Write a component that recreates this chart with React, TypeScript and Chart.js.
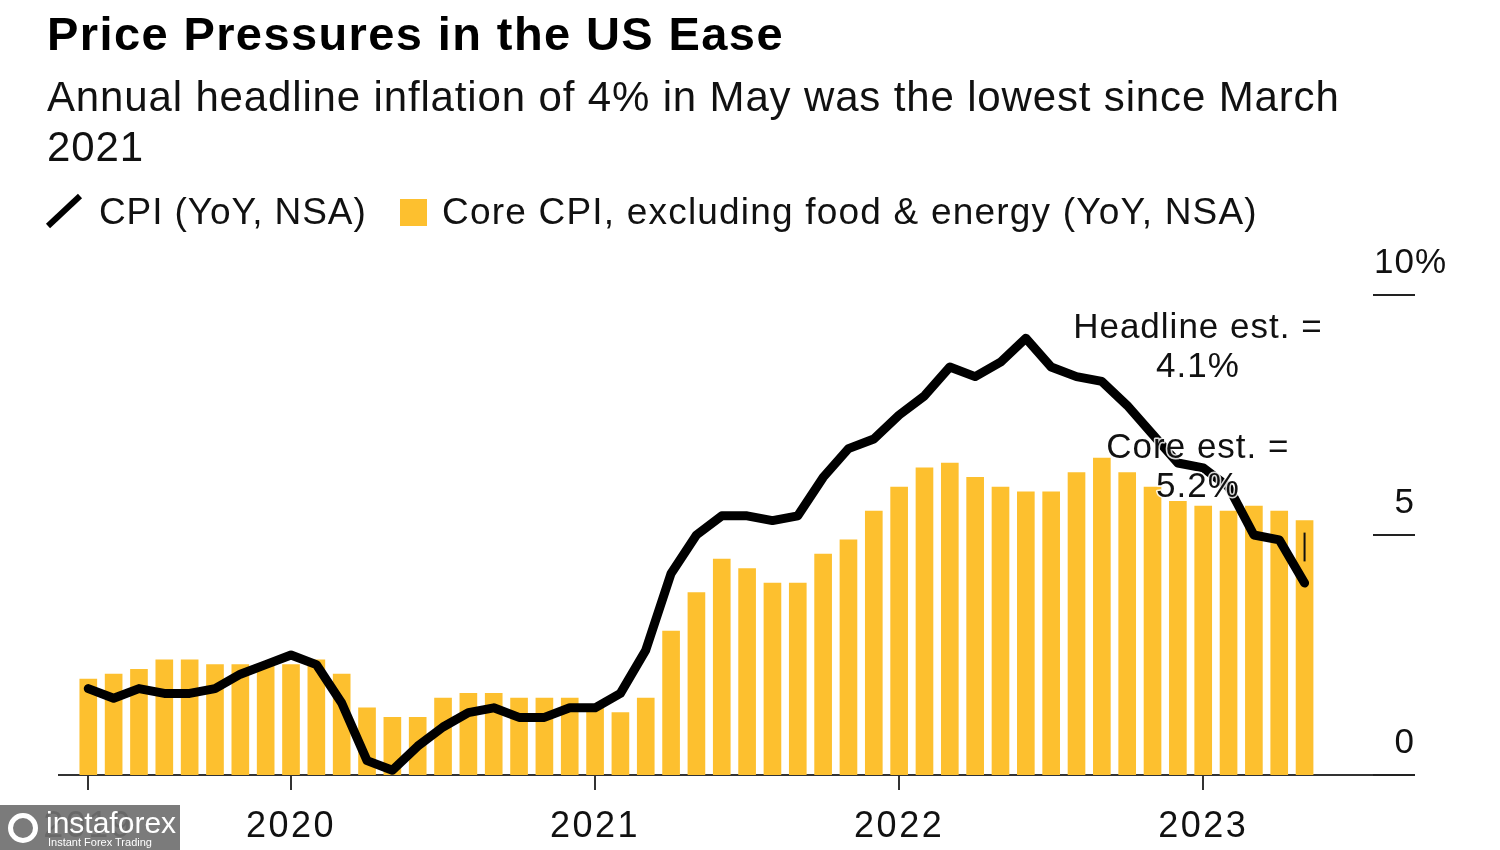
import React, { useEffect, useRef } from 'react';
import { Chart, registerables } from 'chart.js';

Chart.register(...registerables);

const FONT = '"Liberation Sans", Arial, Helvetica, sans-serif';

// Monthly observations, May 2019 - May 2023
const months = [
  '2019-05', '2019-06', '2019-07', '2019-08', '2019-09', '2019-10', '2019-11', '2019-12',
  '2020-01', '2020-02', '2020-03', '2020-04', '2020-05', '2020-06', '2020-07', '2020-08', '2020-09', '2020-10', '2020-11', '2020-12',
  '2021-01', '2021-02', '2021-03', '2021-04', '2021-05', '2021-06', '2021-07', '2021-08', '2021-09', '2021-10', '2021-11', '2021-12',
  '2022-01', '2022-02', '2022-03', '2022-04', '2022-05', '2022-06', '2022-07', '2022-08', '2022-09', '2022-10', '2022-11', '2022-12',
  '2023-01', '2023-02', '2023-03', '2023-04', '2023-05',
];

const cpiYoY = [
  1.8, 1.6, 1.8, 1.7, 1.7, 1.8, 2.1, 2.3,
  2.5, 2.3, 1.5, 0.3, 0.1, 0.6, 1.0, 1.3, 1.4, 1.2, 1.2, 1.4,
  1.4, 1.7, 2.6, 4.2, 5.0, 5.4, 5.4, 5.3, 5.4, 6.2, 6.8, 7.0,
  7.5, 7.9, 8.5, 8.3, 8.6, 9.1, 8.5, 8.3, 8.2, 7.7, 7.1, 6.5,
  6.4, 6.0, 5.0, 4.9, 4.0,
];

const coreCpiYoY = [
  2.0, 2.1, 2.2, 2.4, 2.4, 2.3, 2.3, 2.3,
  2.3, 2.4, 2.1, 1.4, 1.2, 1.2, 1.6, 1.7, 1.7, 1.6, 1.6, 1.6,
  1.4, 1.3, 1.6, 3.0, 3.8, 4.5, 4.3, 4.0, 4.0, 4.6, 4.9, 5.5,
  6.0, 6.4, 6.5, 6.2, 6.0, 5.9, 5.9, 6.3, 6.6, 6.3, 6.0, 5.7,
  5.6, 5.5, 5.6, 5.5, 5.3,
];

// Small estimate marker on the latest month
const estimateMarker = [4.45, 5.05];

// x-axis ticks (month -> year label)
const yearTickMonths = ['2019-05', '2020-01', '2021-01', '2022-01', '2023-01'];
const yearTickLabels = ['2019', '2020', '2021', '2022', '2023'];

// right-hand value axis
const yTickValues = [0, 5, 10];
const yTickLabels = ['0', '5', '10'];
const yTickSuffix = ['', '', '%'];

const annotationTexts = [
  ['Headline est. =', '4.1%'],
  ['Core est. =', '5.2%'],
];
const annotationAnchorX = [43.79, 43.79];
const annotationAnchorY = [9.1, 6.6];

const YELLOW = '#FDC02F';

const spacingPlugin = {
  id: 'spacing',
  beforeDraw(chart: any) {
    try { (chart.ctx as any).letterSpacing = '2.5px'; } catch (e) {}
  },
  afterDraw(chart: any) {
    try { (chart.ctx as any).letterSpacing = '0px'; } catch (e) {}
  },
};

const overlayPlugin = {
  id: 'overlay',
  afterDatasetsDraw(chart: any) {
    const { ctx, scales } = chart;
    const x = scales.x;
    const y = scales.y;
    ctx.save();
    ctx.font = `35px ${FONT}`;
    try { (ctx as any).letterSpacing = '1px'; } catch (e) {}
    ctx.textAlign = 'center';
    ctx.textBaseline = 'alphabetic';
    ctx.lineJoin = 'round';
    annotationTexts.forEach((lines, i) => {
      const px = x.getPixelForValue(annotationAnchorX[i]);
      const py0 = y.getPixelForValue(annotationAnchorY[i]);
      lines.forEach((t, j) => {
        const py = py0 + j * 39;
        ctx.lineWidth = 3;
        ctx.strokeStyle = 'rgba(255,255,255,0.85)';
        ctx.strokeText(t, px, py);
        ctx.fillStyle = '#111';
        ctx.fillText(t, px, py);
      });
    });
    ctx.restore();
  },
  afterDraw(chart: any) {
    const { ctx, scales, chartArea } = chart;
    const y = scales.y;
    const right = chartArea.right + 3;
    ctx.save();
    ctx.font = `35px ${FONT}`;
    try { (ctx as any).letterSpacing = '1px'; } catch (e) {}
    ctx.textBaseline = 'alphabetic';
    ctx.fillStyle = '#111';
    yTickValues.forEach((v, i) => {
      const py = y.getPixelForValue(v);
      ctx.strokeStyle = '#222';
      ctx.lineWidth = 2;
      ctx.beginPath();
      ctx.moveTo(right - 42, py);
      ctx.lineTo(right, py);
      ctx.stroke();
      ctx.textAlign = 'right';
      ctx.fillText(yTickLabels[i], right, py - 22);
      if (yTickSuffix[i]) {
        ctx.textAlign = 'left';
        ctx.fillText(yTickSuffix[i], right, py - 22);
      }
    });
    ctx.restore();
  },
};

export default function App() {
  const canvasRef = useRef<HTMLCanvasElement | null>(null);

  useEffect(() => {
    if (!canvasRef.current) return;
    const idx = months.map((_, i) => i);
    const tickIdx = yearTickMonths.map((m) => months.indexOf(m));
    const last = months.length - 1;
    const chart = new Chart(canvasRef.current, {
      type: 'bar',
      data: {
        datasets: [
          {
            type: 'line',
            label: 'CPI (YoY, NSA)',
            data: idx.map((i) => ({ x: i, y: cpiYoY[i] })),
            borderColor: '#000',
            borderWidth: 9,
            borderJoinStyle: 'round',
            borderCapStyle: 'round',
            pointRadius: 0,
            tension: 0,
            order: 0,
          } as any,
          {
            type: 'line',
            label: 'estimate',
            data: estimateMarker.map((v) => ({ x: last, y: v })),
            borderColor: '#111',
            borderWidth: 2,
            pointRadius: 0,
            order: 1,
          } as any,
          {
            type: 'bar',
            label: 'Core CPI, excluding food & energy (YoY, NSA)',
            data: idx.map((i) => ({ x: i, y: coreCpiYoY[i] })),
            backgroundColor: YELLOW,
            barThickness: 17,
            order: 2,
          } as any,
        ],
      },
      options: {
        responsive: false,
        animation: false,
        layout: { padding: { left: 59, right: 88, top: 271, bottom: -14 } },
        plugins: {
          legend: { display: false },
          tooltip: { enabled: false },
          title: { display: false },
        },
        scales: {
          x: {
            type: 'linear',
            offset: false,
            min: -1.156,
            max: 52.24,
            afterBuildTicks: (axis: any) => {
              axis.ticks = tickIdx.map((v) => ({ value: v }));
            },
            grid: {
              display: true,
              offset: false,
              drawOnChartArea: false,
              drawTicks: true,
              tickLength: 15,
              color: '#333',
              lineWidth: 2,
            },
            border: { display: true, color: '#333', width: 2 },
            ticks: {
              autoSkip: false,
              maxRotation: 0,
              padding: 19,
              color: '#111',
              font: { family: FONT, size: 36, lineHeight: 1 },
              callback: (v: any) => {
                const k = tickIdx.indexOf(Number(v));
                return k >= 0 ? yearTickLabels[k] : '';
              },
            },
          },
          y: {
            type: 'linear',
            display: false,
            min: 0,
            max: 10.5,
          },
        },
      } as any,
      plugins: [spacingPlugin, overlayPlugin],
    });
    return () => chart.destroy();
  }, []);

  const text: React.CSSProperties = {
    position: 'absolute',
    fontFamily: FONT,
    color: '#111',
    whiteSpace: 'nowrap',
    margin: 0,
  };

  return (
    <div style={{ position: 'fixed', left: 0, top: 0, width: 1500, height: 850, background: '#fff', overflow: 'hidden' }}>
      <canvas ref={canvasRef} width={1500} height={850} style={{ position: 'absolute', left: 0, top: 0, width: 1500, height: 850 }} />
      <div style={{ ...text, left: 47, top: 10, fontSize: 47, lineHeight: '47px', fontWeight: 700, letterSpacing: '1.4px', color: '#000' }}>
        Price Pressures in the US Ease
      </div>
      <div style={{ ...text, left: 47, top: 72, fontSize: 42, lineHeight: '50px', letterSpacing: '0.85px', whiteSpace: 'normal', width: 1330 }}>
        Annual headline inflation of 4% in May was the lowest since March 2021
      </div>
      <svg style={{ position: 'absolute', left: 44, top: 192 }} width={42} height={38}>
        <line x1={4} y1={34} x2={36} y2={4} stroke="#000" strokeWidth={6} />
      </svg>
      <div style={{ ...text, left: 99, top: 192, fontSize: 37, lineHeight: '40px', letterSpacing: '0.9px' }}>CPI (YoY, NSA)</div>
      <div style={{ position: 'absolute', left: 400, top: 199, width: 27, height: 27, background: YELLOW }} />
      <div style={{ ...text, left: 442, top: 192, fontSize: 37, lineHeight: '40px', letterSpacing: '1.2px' }}>
        Core CPI, excluding food &amp; energy (YoY, NSA)
      </div>
      <div style={{ position: 'absolute', left: 0, top: 805, width: 180, height: 45, background: 'rgba(112,112,112,0.92)' }}>
        <div style={{ position: 'absolute', left: 8, top: 8, width: 30, height: 30, borderRadius: 15, border: '5px solid #fff', boxSizing: 'border-box' }} />
        <div style={{ ...text, left: 46, top: 2, fontSize: 30, lineHeight: '32px', color: '#fff' }}>instaforex</div>
        <div style={{ ...text, left: 48, top: 31, fontSize: 11, lineHeight: '12px', color: '#fff' }}>Instant Forex Trading</div>
      </div>
    </div>
  );
}
